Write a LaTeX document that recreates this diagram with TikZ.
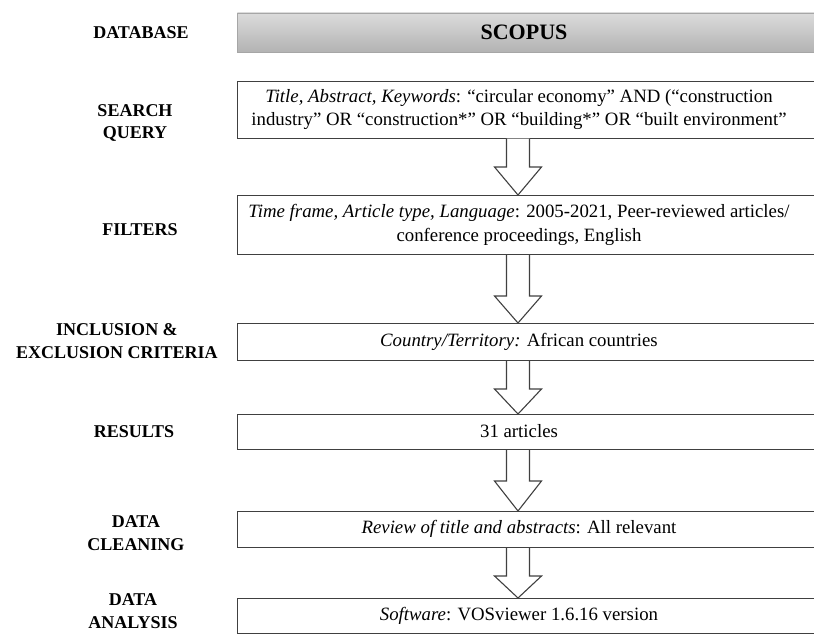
\documentclass[tikz,border=0pt]{standalone}
\usepackage{fontspec}
\setmainfont{Liberation Serif}
\usetikzlibrary{calc}
\begin{document}
\begin{tikzpicture}[x=1pt,y=-1pt,
  lab/.style={font=\fontsize{18}{22.5}\selectfont\bfseries, align=center, inner sep=0pt},
  txt/.style={font=\fontsize{18.8}{23.5}\selectfont, align=center, inner sep=0pt},
  frame/.style={draw=black!75, line width=1.1pt, anchor=north west, minimum width=600pt, inner sep=0pt},
  arr/.style={draw=black!75, line width=1.1pt, fill=white, line join=miter}
]
\useasboundingbox (0,0) rectangle (814,633);
\coordinate (ax) at (518,0);
% boxes
\node[frame, draw=black!35, line width=0.8pt, top color=black!14, bottom color=black!30, minimum height=39.5pt] (b0) at (237,12.5) {};
\node[frame, minimum height=56.5pt] (b1) at (237,81) {};
\node[frame, minimum height=59pt] (b2) at (237,195) {};
\node[frame, minimum height=37pt] (b3) at (237,323) {};
\node[frame, minimum height=35pt] (b4) at (237,414) {};
\node[frame, minimum height=36pt] (b5) at (237,511) {};
\node[frame, minimum height=35pt] (b6) at (237,598) {};
% box texts
\node[txt, font=\fontsize{22}{24}\selectfont\bfseries] (t0) at (524,32) {SCOPUS};
\node[txt] (t1) at (519,109.5) {\textit{Title, Abstract, Keywords}: “circular economy” AND (“construction\\industry” OR “construction*” OR “building*” OR “built environment”};
\node[txt] (t2) at (519,225) {\textit{Time frame, Article type, Language}: 2005-2021, Peer-reviewed articles/\\conference proceedings, English};
\node[txt] (t3) at (519,341.5) {\textit{Country/Territory:} African countries};
\node[txt] (t4) at (519,431.5) {31 articles};
\node[txt] (t5) at (519,529) {\textit{Review of title and abstracts}: All relevant};
\node[txt] (t6) at (519,615.5) {\textit{Software}: VOSviewer 1.6.16 version};
% labels
\node[lab] (l0) at (141,33) {DATABASE};
\node[lab] (l1) at (135,123) {SEARCH\\QUERY};
\node[lab] (l2) at (140,230) {FILTERS};
\node[lab] (l3) at (117,341) {INCLUSION \&\\EXCLUSION CRITERIA};
\node[lab] (l4) at (134,432) {RESULTS};
\node[lab] (l5) at (136,533) {DATA\\CLEANING};
\node[lab, font=\fontsize{18}{23}\selectfont\bfseries] (l6) at (133,611) {DATA\\ANALYSIS};
% block arrows
\newcommand\blockarrow[3]{%
  \draw[arr] let \p1=(#1.south -| ax), \p2=(#2.north -| ax) in
    (\x1-11.5,\y1) -- (\x1-11.5,\y2+#3) -- (\x1-23.5,\y2+#3) -- (\x2,\y2)
    -- (\x1+23.5,\y2+#3) -- (\x1+11.5,\y2+#3) -- (\x1+11.5,\y1);
}
\blockarrow{b1}{b2}{28}
\blockarrow{b2}{b3}{27}
\blockarrow{b3}{b4}{25}
\blockarrow{b4}{b5}{30}
\blockarrow{b5}{b6}{22}
\end{tikzpicture}
\end{document}
